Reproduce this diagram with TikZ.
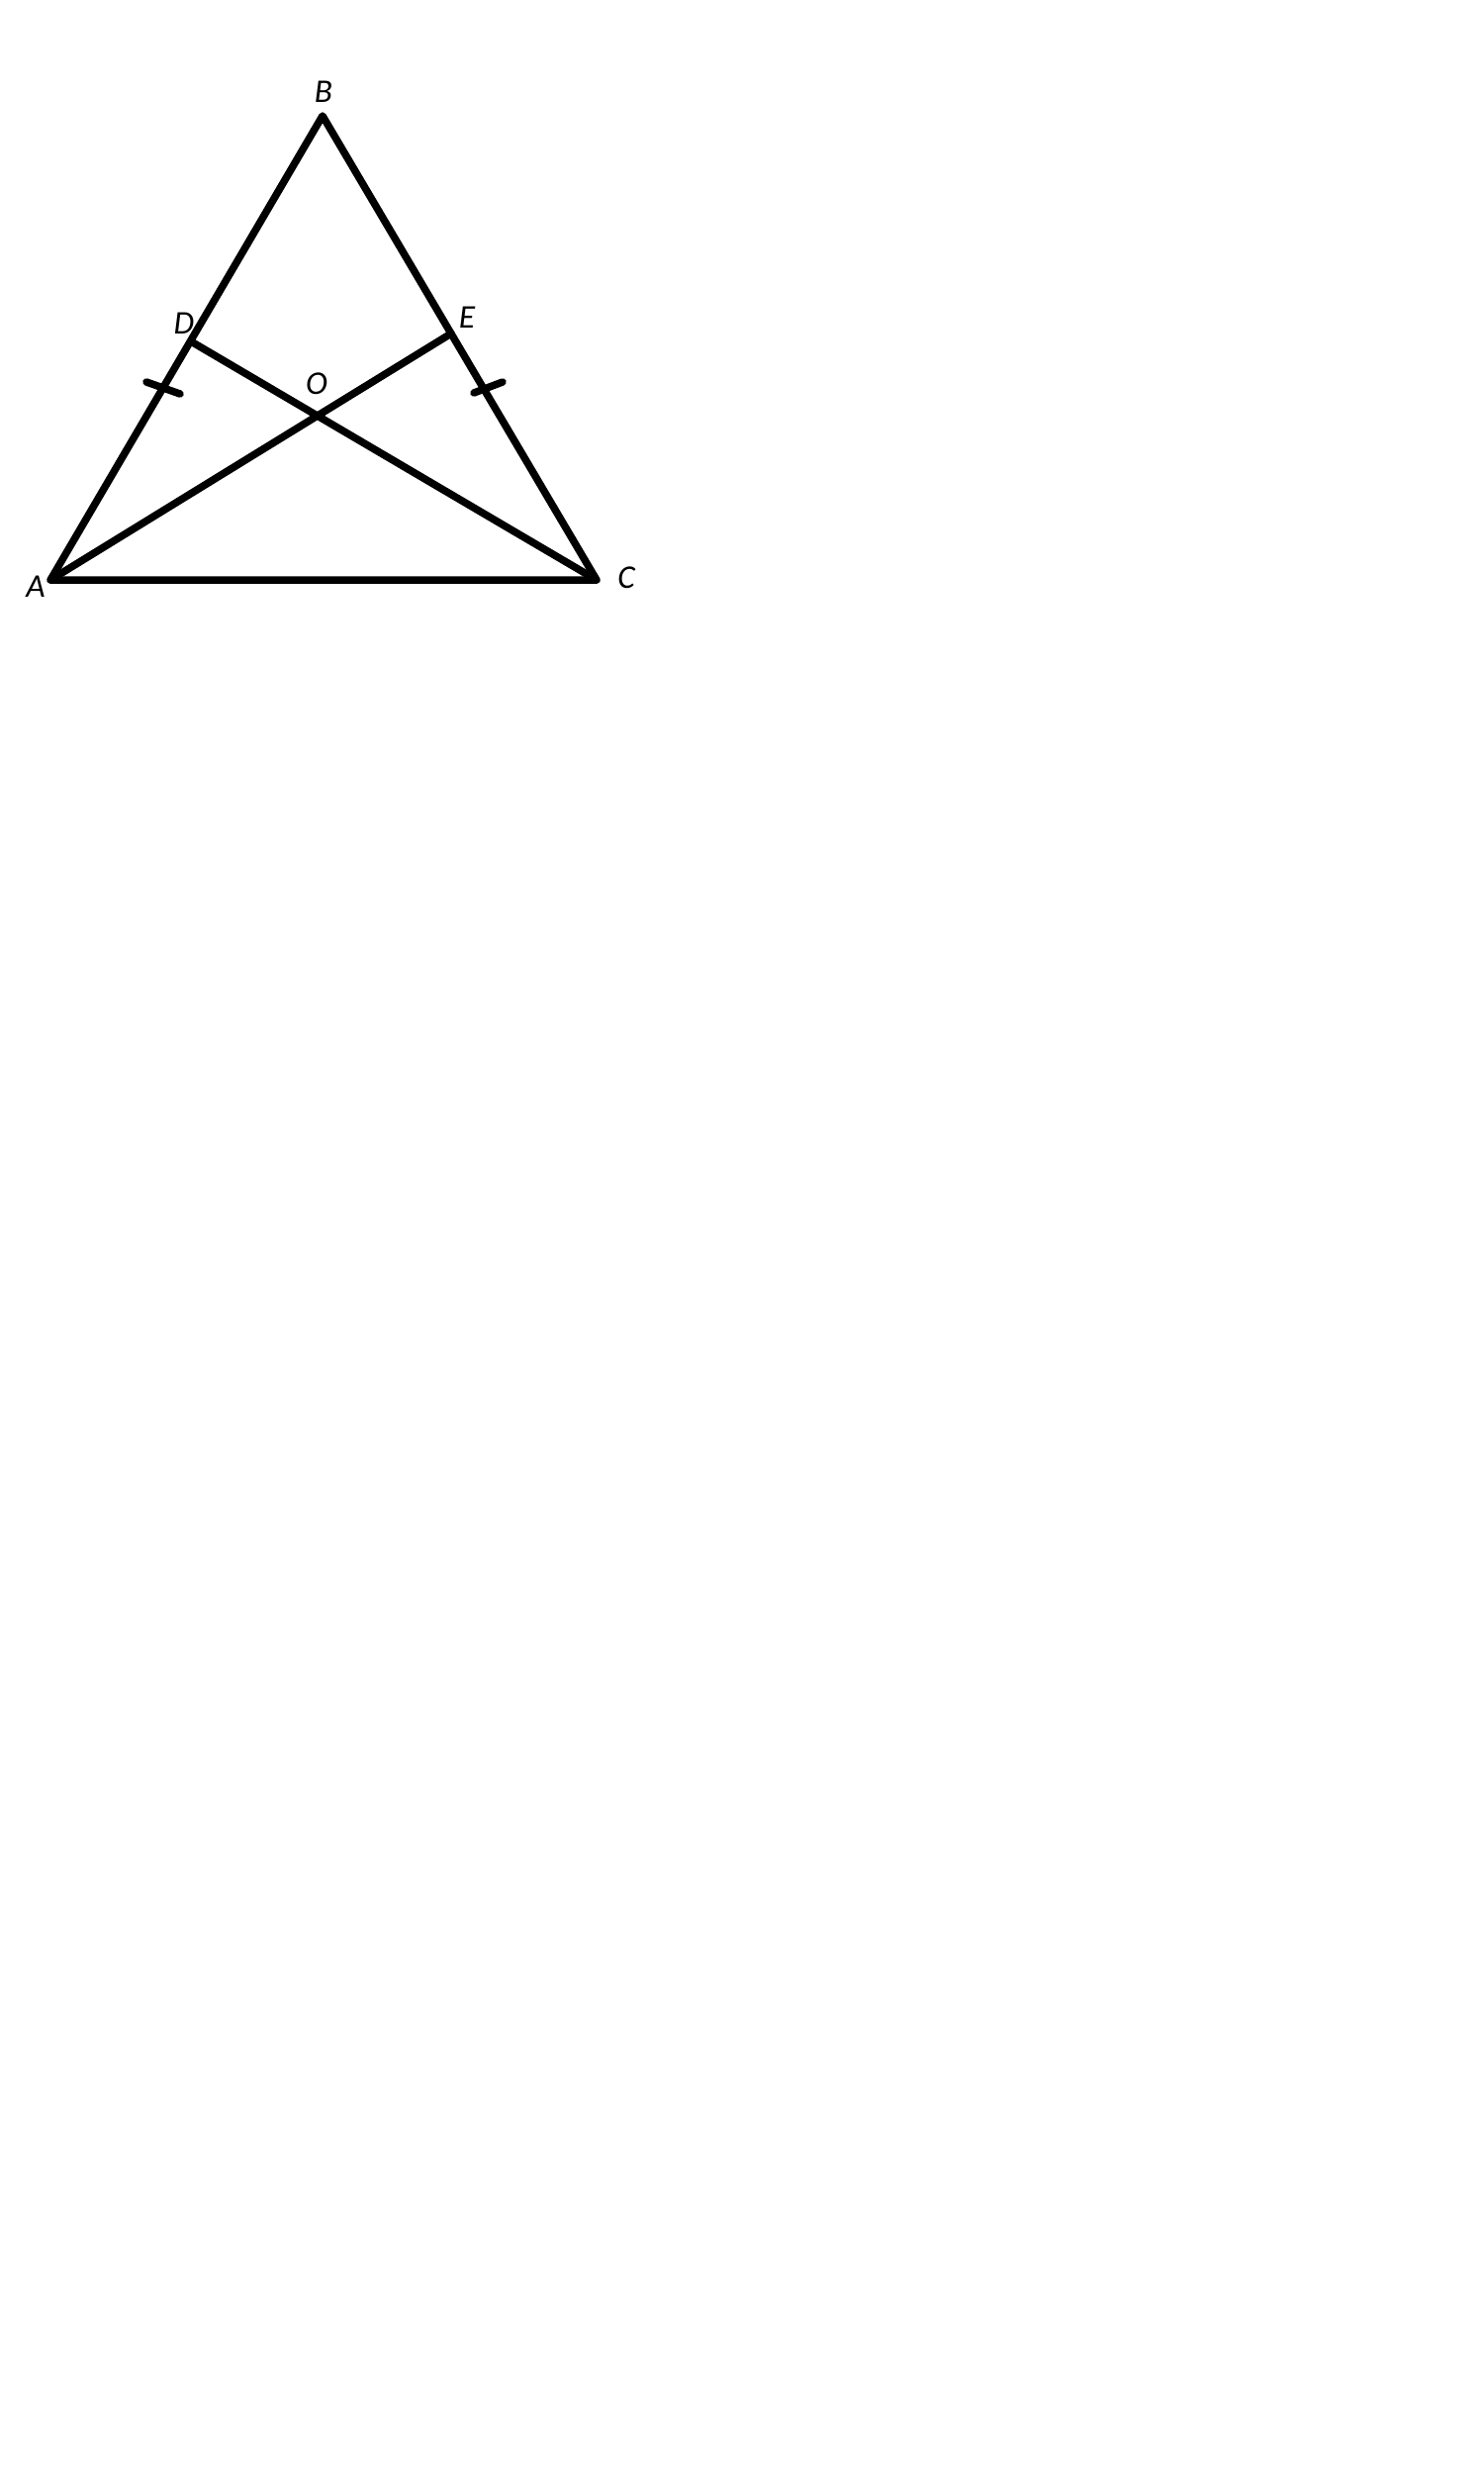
\documentclass[tikz,border=0pt]{standalone}
\usepackage{fontspec}
\setmainfont{Carlito}
\begin{document}
\begin{tikzpicture}[x=0.01cm,y=-0.01cm,line width=0.075cm,line cap=round,line join=round,
    lbl/.style={font=\fontsize{9.5}{10}\selectfont\itshape,inner sep=0pt}]
    \useasboundingbox (0,0) rectangle (1500,2505);
    \coordinate (A) at (51,586);
    \coordinate (B) at (326,117);
    \coordinate (C) at (603,586);
    \coordinate (D) at (193,345);
    \coordinate (E) at (456,337);
    \coordinate (O) at (intersection of A--E and C--D);
    \coordinate (t1a) at (148,386);
    \coordinate (t1b) at (182,398);
    \coordinate (t2a) at (479,397);
    \coordinate (t2b) at (508,386);
    \draw (A) -- (B) -- (C) -- cycle;
    \draw (A) -- (E);
    \draw (C) -- (D);
    \draw (t1a) -- (t1b);
    \draw (t2a) -- (t2b);
    \node [lbl] (lA) at (36,593) {A};
    \node [lbl] (lB) at (327,93) {B};
    \node [lbl] (lC) at (633,584) {C};
    \node [lbl] (lD) at (186,327) {D};
    \node [lbl] (lE) at (472,321) {E};
    \node [lbl] (lO) at (320,388) {O};
\end{tikzpicture}
\end{document}
